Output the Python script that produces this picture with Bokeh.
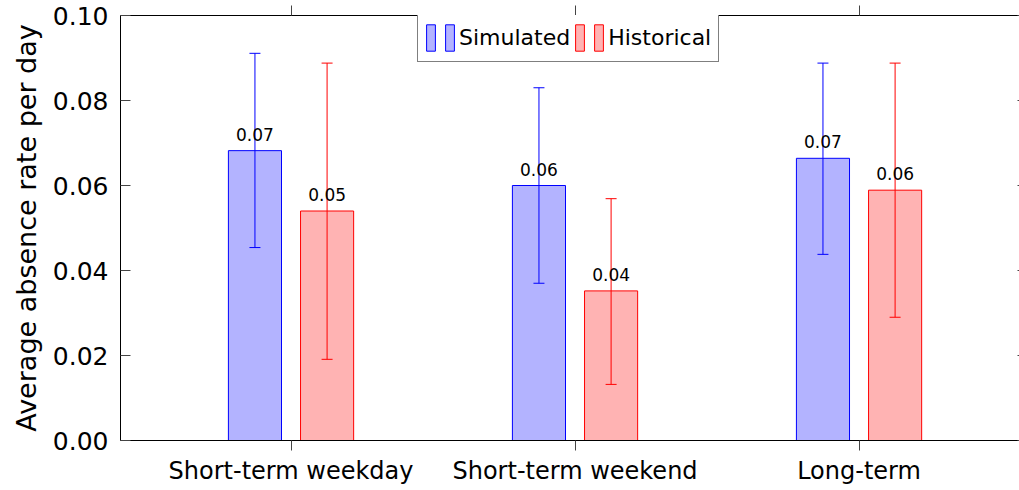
from bokeh.plotting import figure
from bokeh.models import (Range1d, LinearAxis, FixedTicker, NumeralTickFormatter,
                          CustomJSTickFormatter, ColumnDataSource, Whisker, TeeHead,
                          LabelSet, Legend, LegendItem)
from bokeh.transform import dodge
from bokeh.core.properties import value
from bokeh.embed import file_html
from bokeh.resources import INLINE

# Absence categories and rates
categories = ["Short-term weekday", "Short-term weekend", "Long-term"]
simulated = [0.0682, 0.0600, 0.0664]
historical = [0.0540, 0.0352, 0.0589]
simulated_lower = [0.0454, 0.0370, 0.0438]
simulated_upper = [0.0911, 0.0830, 0.0888]
historical_lower = [0.0191, 0.0132, 0.0290]
historical_upper = [0.0888, 0.0569, 0.0888]
y_ticks = [0.0, 0.02, 0.04, 0.06, 0.08, 0.10]

FONT = "DejaVu Sans"
BAR_W = 0.187
OFF = 0.127

xs = list(range(len(categories)))
src = ColumnDataSource(dict(
    x=xs,
    sim=simulated, hist=historical,
    sim_x=[x - OFF for x in xs], hist_x=[x + OFF for x in xs],
    sim_lo=simulated_lower, sim_hi=simulated_upper,
    hist_lo=historical_lower, hist_hi=historical_upper,
    sim_lbl=["%.2f" % v for v in simulated],
    hist_lbl=["%.2f" % v for v in historical],
))

p = figure(width=1019, height=490, output_backend="svg", toolbar_location=None,
           x_range=Range1d(-0.6004, 2.565), y_range=Range1d(0, 0.10),
           min_border_left=120, min_border_right=0, min_border_top=15,
           min_border_bottom=50)
p.outline_line_color = None
p.grid.visible = False
p.background_fill_color = "white"

tick_color = "#444444"
blank = CustomJSTickFormatter(code="return ''")

# bottom axis: category names at group centres
xa = p.xaxis[0]
xa.ticker = FixedTicker(ticks=xs)
xa.major_label_overrides = {i: c for i, c in enumerate(categories)}
xa.major_tick_in = 0
xa.major_tick_out = 10
xa.minor_tick_line_color = None
xa.major_label_standoff = 6
xa.major_label_text_font = FONT
xa.major_label_text_font_size = "24px"
xa.major_label_text_color = "black"
xa.axis_line_color = "black"
xa.major_tick_line_color = tick_color

# left axis
ya = p.yaxis[0]
ya.ticker = FixedTicker(ticks=y_ticks)
ya.formatter = NumeralTickFormatter(format="0.00")
ya.major_tick_in = 10
ya.major_tick_out = 0
ya.minor_tick_line_color = None
ya.major_label_standoff = 12
ya.major_label_text_font = FONT
ya.major_label_text_font_size = "25px"
ya.major_label_text_color = "black"
ya.axis_line_color = "black"
ya.major_tick_line_color = tick_color
ya.axis_label = "Average absence rate per day"
ya.axis_label_text_font = FONT
ya.axis_label_text_font_size = "27px"
ya.axis_label_text_font_style = "normal"
ya.axis_label_text_color = "black"
ya.axis_label_standoff = 8

# top and right box edges with ticks only
top = LinearAxis(ticker=FixedTicker(ticks=xs), formatter=blank, major_tick_in=0,
                 major_tick_out=10, minor_tick_line_color=None,
                 major_label_text_font_size="1px", major_label_standoff=0,
                 axis_line_color="black", major_tick_line_color=tick_color)
p.add_layout(top, "above")
right = LinearAxis(ticker=FixedTicker(ticks=y_ticks), formatter=blank, major_tick_in=2,
                   major_tick_out=0, minor_tick_line_color=None,
                   major_label_text_font_size="1px", major_label_standoff=0,
                   axis_line_color=None, major_tick_line_color=tick_color)
p.add_layout(right, "right")

# bars
r_sim = p.vbar(x=dodge("x", -OFF, range=p.x_range), top="sim", width=BAR_W, source=src,
               fill_color="#b3b3ff", line_color="blue", line_width=1)
r_hist = p.vbar(x=dodge("x", OFF, range=p.x_range), top="hist", width=BAR_W, source=src,
                fill_color="#ffb3b3", line_color="red", line_width=1)

# error bars
for base, lo, hi, col in [("sim_x", "sim_lo", "sim_hi", "blue"),
                          ("hist_x", "hist_lo", "hist_hi", "red")]:
    w = Whisker(base=base, lower=lo, upper=hi, source=src, line_color=col, line_width=1,
                level="annotation",
                upper_head=TeeHead(size=11, line_color=col, line_width=1),
                lower_head=TeeHead(size=11, line_color=col, line_width=1))
    p.add_layout(w)

# value labels above bars
for xcol, ycol, lcol in [("sim_x", "sim", "sim_lbl"), ("hist_x", "hist", "hist_lbl")]:
    p.add_layout(LabelSet(x=xcol, y=ycol, text=lcol, source=src, text_align="center",
                          text_baseline="alphabetic", y_offset=10,
                          text_font=value(FONT), text_font_size="17px",
                          text_color="black"))

legend = Legend(items=[
    LegendItem(label=value(""), renderers=[r_sim]),
    LegendItem(label=value("Simulated"), renderers=[r_sim]),
    LegendItem(label=value(""), renderers=[r_hist]),
    LegendItem(label=value("Historical"), renderers=[r_hist]),
], location=(297, 378), orientation="horizontal", glyph_width=11, glyph_height=33,
    label_standoff=4, spacing=4, padding=7, margin=0, label_width=0,
    border_line_color="black", border_line_width=1, background_fill_alpha=1,
    label_text_font=FONT, label_text_font_size="22px", label_text_color="black")
p.add_layout(legend)

open("out.html", "w").write(file_html(p, INLINE))
